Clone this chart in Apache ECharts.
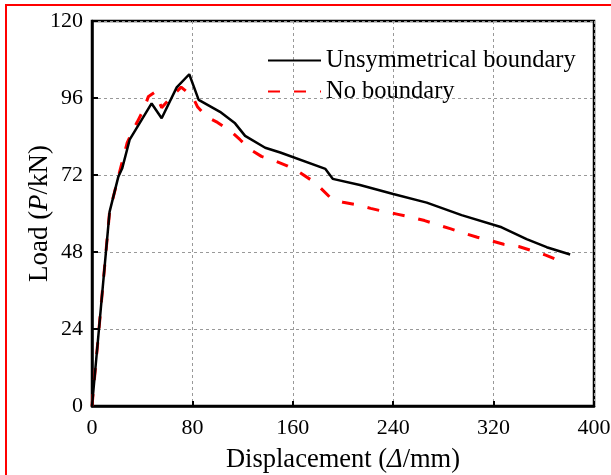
<!DOCTYPE html>
<html>
<head>
<meta charset="utf-8">
<script src="https://cdn.jsdelivr.net/npm/echarts@6/dist/echarts.min.js"></script>
<style>
  html, body { margin: 0; padding: 0; background: #fff; }
  #chart { width: 611px; height: 475px; }
</style>
</head>
<body>
<div id="chart"></div>
<script>
// Valeurs (déplacement en mm, charge en kN)
const unsymDisp = [0, 14, 21, 24, 30, 47.5, 55.5, 67.5, 77.5, 85, 102, 114, 122, 138, 150, 186, 191.8, 213.5, 240, 266.7, 294.5, 326.4, 346.3, 362.3, 381];
const unsymLoad = [0, 60.5, 71.5, 74, 83, 94.3, 89.7, 99.3, 103.4, 95.4, 91.7, 88.1, 84.2, 80.5, 79, 73.9, 70.8, 68.9, 66.1, 63.4, 59.5, 55.7, 52, 49.5, 47.2];

const noBoundDisp = [0, 14, 22, 28, 32, 36, 41, 45, 50, 55.5, 62, 71, 80, 84, 91, 100, 110, 118, 126, 135, 146, 156, 165, 174, 182, 191, 200, 211, 222, 233, 243, 255, 265, 276, 286, 297, 307, 318, 328, 340, 349, 361, 370];
const noBoundLoad = [0, 60.5, 73, 82, 85.5, 88.5, 92.3, 96.5, 97.8, 93, 95.8, 99.4, 96.5, 93.3, 90.2, 88.4, 85.8, 83, 80, 77.8, 76.4, 74.8, 72.9, 70.6, 68, 64.5, 63.5, 62.7, 61.6, 60.6, 59.8, 58.8, 57.8, 56.4, 55.2, 53.8, 52.6, 51.5, 50.4, 49.7, 48.6, 47.1, 45.7];

const seriesNames = ['Unsymmetrical boundary', 'No boundary'];

const serif = 'Liberation Serif';

const chart = echarts.init(document.getElementById('chart'));

const toPairs = (xs, ys) => xs.map((x, i) => [x, ys[i]]);

chart.setOption({
  animation: false,
  backgroundColor: '#fff',
  grid: {
    left: 92, top: 21, right: 17, bottom: 69,
    outerBoundsMode: 'none', // garder la zone de tracé fixe
    show: true, borderColor: '#000', borderWidth: 2.5
  },
  graphic: [{
    type: 'rect',
    shape: { x: 6, y: 5, width: 700, height: 600 },
    style: { fill: 'none', stroke: '#ff0000', lineWidth: 2 },
    z: 100
  }],
  legend: {
    orient: 'vertical',
    left: 262, top: 43,
    itemWidth: 53, itemHeight: 14, itemGap: 6,
    itemStyle: { opacity: 0 }, // pas de symbole dans la légende
    textStyle: { fontFamily: serif, fontSize: 24.5, color: '#000' },
    data: seriesNames
  },
  xAxis: {
    type: 'value', min: 0, max: 400, interval: 80,
    name: '{n|Displacement (}{i|Δ}{n|/mm)}',
    nameLocation: 'middle', nameGap: 41, nameMoveOverlap: false,
    nameTextStyle: {
      rich: {
        n: { fontFamily: serif, fontSize: 26.5, color: '#000' },
        i: { fontFamily: serif, fontSize: 26.5, color: '#000', fontStyle: 'italic' }
      }
    },
    axisLine: { lineStyle: { color: '#000', width: 2.5 } },
    axisTick: { inside: true, length: 5, lineStyle: { color: '#000', width: 2 } },
    axisLabel: { fontFamily: serif, fontSize: 22, color: '#000', margin: 11 },
    splitLine: { lineStyle: { color: '#999', type: [3, 3], width: 1 } }
  },
  yAxis: {
    type: 'value', min: 0, max: 120, interval: 24,
    name: '{n|Load (}{i|P}{n|/kN)}',
    nameLocation: 'middle', nameGap: 39, nameMoveOverlap: false,
    nameTextStyle: {
      rich: {
        n: { fontFamily: serif, fontSize: 27, color: '#000' },
        i: { fontFamily: serif, fontSize: 27, color: '#000', fontStyle: 'italic' }
      }
    },
    axisLine: { show: true, lineStyle: { color: '#000', width: 2.5 } },
    axisTick: { show: true, inside: true, length: 6, lineStyle: { color: '#000', width: 2 } },
    axisLabel: { fontFamily: serif, fontSize: 22, color: '#000', margin: 9 },
    splitLine: { lineStyle: { color: '#999', type: [3, 3], width: 1 } }
  },
  series: [
    {
      name: seriesNames[0],
      type: 'line',
      data: toPairs(unsymDisp, unsymLoad),
      symbol: 'none',
      lineStyle: { color: '#000', width: 2.5 },
      itemStyle: { color: '#000' },
      z: 3
    },
    {
      name: seriesNames[1],
      type: 'line',
      data: toPairs(noBoundDisp, noBoundLoad),
      symbol: 'none',
      lineStyle: { color: '#ff0000', width: 3, type: [12, 14] },
      itemStyle: { color: '#ff0000' },
      z: 2
    }
  ]
});
</script>
</body>
</html>
